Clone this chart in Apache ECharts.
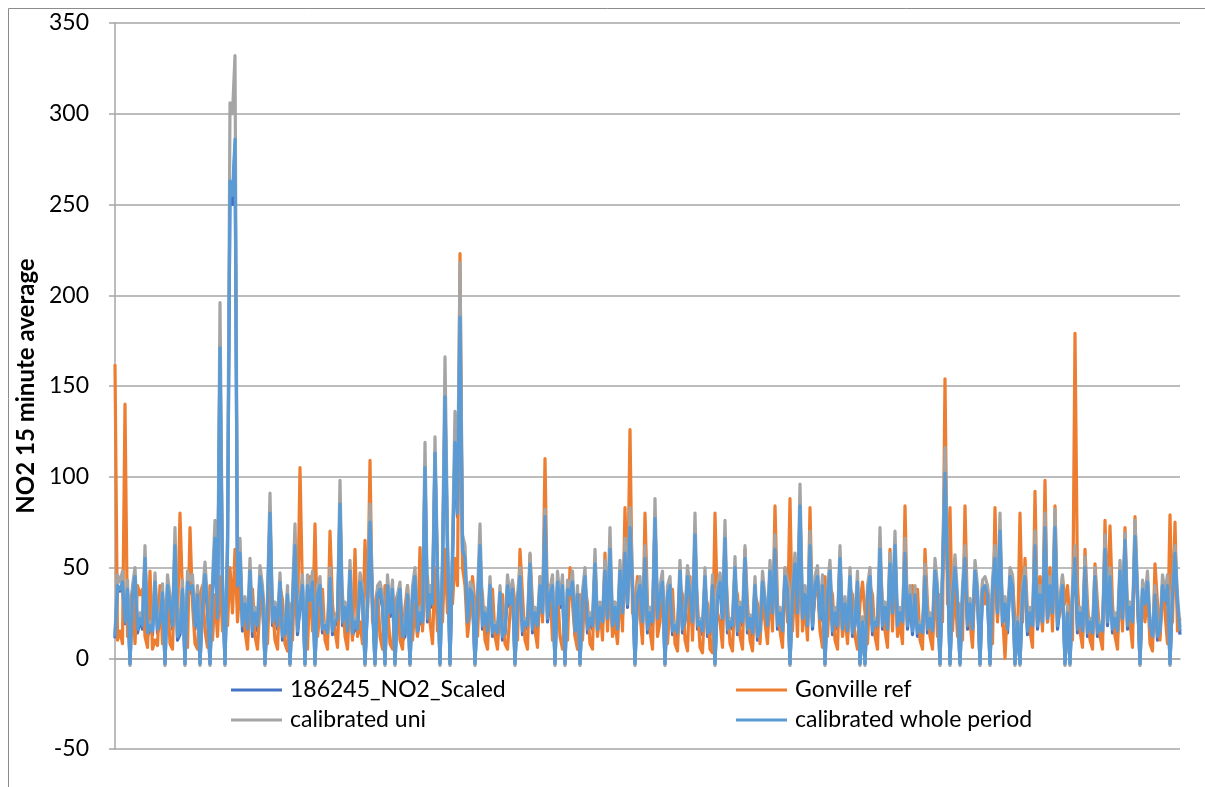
<!DOCTYPE html>
<html>
<head>
<meta charset="utf-8">
<script src="https://cdn.jsdelivr.net/npm/echarts@6/dist/echarts.min.js"></script>
<style>
  html, body { margin: 0; padding: 0; background: #fff; }
  #chart { width: 1205px; height: 787px; }
</style>
</head>
<body>
<div id="chart"></div>
<script>
// 15 minute NO2 readings (roughly one point every 2.5px)
const scaled = [
  11, 38, 37, 40, 19, 36, -3, 33, 44, 14, 21, 16, 54, 12, 17, 13, 41, 14, 19, 34,
  -3, 38, 28, 16, 60, 10, 13, 36, -3, 40, 36, 38, 16, 33, -3, 28, 44, 26, -3, 36,
  64, 20, 168, 38, -3, 58, 258, 250, 282, 38, 55, 15, 24, 12, 45, 12, 22, 15, 42, 33,
  -3, 28, 78, 18, 25, 16, 40, 10, 12, 33, -3, 28, 60, 13, 28, 38, -3, 38, 30, 40,
  -3, 33, 38, 14, 16, 12, 42, 13, 18, 20, 83, 18, 26, 13, 46, 12, 18, 14, 40, 33,
  -3, 28, 73, 28, -3, 33, 36, 28, -3, 38, 23, 36, -3, 28, 36, 10, 12, 33, -3, 33,
  43, 13, 23, 18, 102, 20, 32, 28, 110, 43, -3, 48, 140, 58, -3, 53, 115, 78, 183, 58,
  52, 18, 35, 33, -3, 28, 60, 16, 23, 13, 38, 12, 16, 12, 34, 10, 13, 38, 28, 36,
  -3, 28, 43, 13, 18, 16, 50, 14, 22, 16, 38, 23, 75, 20, 32, 38, -3, 40, 28, 38,
  -3, 36, 33, 40, 13, 33, -3, 30, 43, 14, 20, 16, 50, 14, 26, 18, 46, 20, 58, 16,
  26, 14, 46, 23, 56, 28, 70, 38, -3, 33, 38, 18, 53, 14, 23, 18, 75, 20, 33, 40,
  -3, 33, 38, 13, 16, 12, 46, 14, 20, 43, 33, 18, 66, 16, 18, 13, 43, 12, 13, 38,
  -3, 33, 40, 20, 64, 14, 18, 16, 48, 13, 26, 18, 53, 14, 20, 12, 38, 10, 13, 40,
  28, 16, 46, 23, 58, 16, 23, 13, 43, 36, -3, 33, 50, 23, 82, 20, 33, 16, 60, 16,
  38, 43, 20, 38, -3, 33, 46, 13, 23, 16, 53, 14, 28, 13, 43, 12, 18, 40, -3, 18,
  -3, 33, 43, 13, 18, 16, 58, 16, 26, 14, 48, 23, 58, 16, 22, 18, 54, 16, 32, 13,
  33, 12, 16, 12, 43, 14, 20, 13, 45, 33, -3, 43, 99, 48, -3, 33, 47, 28, -3, 33,
  52, 16, 28, 14, 46, 33, -3, 36, 38, 33, -3, 36, 52, 23, 67, 18, 28, 14, 42, 38,
  -3, 18, -3, 33, 43, 13, 23, 16, 60, 16, 33, 18, 70, 20, 38, 23, 70, 16, 28, 38,
  -3, 23, -3, 33, 52, 14, 22, 13, 47, 12, 17, 12, 42, 12, 15, 13, 57, 18, 42, 14,
  20, 13, 46, 20, 63, 16, 25, 18, 65, 33, -3, 36, 28, 40, 16, 10, 33, 10, 13, 38,
  30, 38, -3, 33, 56, 28, 13
];

const gonville = [
  162, 10, 15, 8, 140, 12, 30, 38, 8, 40, 35, 38, 12, 6, 48, 5, 10, 7, 40, 8,
  30, 35, 8, 5, 50, 20, 80, 35, 10, 6, 72, 30, 8, 5, 35, 40, 15, 6, 40, 10,
  35, 12, 45, 15, 30, 18, 50, 25, 60, 20, 40, 30, 15, 5, 35, 38, 12, 5, 30, 38,
  20, 8, 45, 30, 10, 5, 40, 32, 8, 4, 30, 10, 50, 20, 105, 35, 12, 5, 45, 15,
  74, 12, 25, 38, 10, 5, 70, 30, 15, 6, 45, 35, 12, 5, 35, 10, 60, 12, 20, 8,
  65, 25, 109, 20, 30, 38, 12, 5, 40, 30, 8, 5, 30, 35, 10, 5, 28, 40, 20, 10,
  30, 12, 61, 15, 40, 45, 20, 8, 50, 15, 35, 20, 60, 25, 45, 30, 55, 40, 223, 50,
  40, 12, 25, 45, 30, 12, 45, 35, 10, 5, 35, 38, 12, 5, 30, 35, 8, 5, 25, 42,
  30, 10, 60, 35, 10, 5, 57, 30, 15, 6, 45, 20, 110, 25, 40, 10, 25, 38, 12, 5,
  25, 10, 50, 30, 12, 5, 35, 10, 40, 30, 8, 5, 55, 12, 30, 10, 58, 15, 45, 12,
  20, 8, 40, 15, 83, 30, 126, 25, 30, 45, 25, 8, 80, 30, 15, 5, 60, 12, 20, 40,
  25, 8, 30, 38, 8, 4, 40, 35, 10, 4, 45, 10, 50, 30, 6, 3, 35, 30, 5, 3,
  80, 25, 20, 6, 55, 30, 8, 4, 40, 35, 12, 5, 60, 30, 10, 4, 35, 30, 8, 35,
  20, 8, 40, 15, 84, 30, 15, 6, 50, 20, 88, 15, 45, 12, 70, 15, 30, 10, 83, 20,
  35, 42, 15, 6, 45, 12, 40, 35, 10, 5, 50, 12, 25, 8, 38, 35, 12, 5, 30, 42,
  25, 8, 40, 35, 12, 5, 55, 30, 15, 6, 60, 15, 55, 12, 20, 8, 84, 20, 30, 40,
  25, 38, 10, 5, 60, 30, 12, 5, 45, 12, 35, 20, 154, 30, 83, 15, 40, 12, 30, 10,
  84, 25, 20, 6, 45, 30, 15, 42, 30, 40, 25, 8, 83, 20, 60, 25, 0, 30, 40, 45,
  20, 6, 80, 20, 55, 25, 15, 6, 92, 20, 45, 15, 98, 20, 50, 15, 84, 20, 25, 45,
  30, 40, 20, 10, 179, 40, 15, 6, 60, 30, 10, 5, 52, 30, 12, 5, 76, 25, 73, 30,
  12, 5, 45, 15, 72, 25, 20, 6, 78, 30, 4, 35, 20, 38, 8, 4, 52, 30, 10, 40,
  25, 8, 79, 20, 75, 15, 22
];

const calUni = [
  14, 46, 42, 48, 23, 43, -4, 40, 50, 19, 25, 21, 62, 16, 20, 18, 47, 19, 22, 41,
  -4, 46, 34, 21, 72, 14, 18, 43, -4, 48, 43, 46, 21, 40, -4, 35, 53, 32, -4, 43,
  76, 26, 196, 46, -4, 68, 306, 300, 332, 46, 66, 21, 34, 19, 55, 18, 28, 21, 51, 40,
  -4, 35, 91, 23, 31, 21, 47, 14, 16, 40, -4, 35, 74, 18, 34, 46, -4, 46, 36, 48,
  -4, 40, 45, 19, 20, 16, 50, 18, 22, 26, 98, 23, 31, 18, 54, 16, 22, 19, 47, 40,
  -4, 35, 85, 35, -4, 40, 42, 35, -4, 46, 28, 43, -4, 35, 42, 14, 16, 40, -4, 40,
  50, 18, 28, 23, 119, 26, 40, 35, 122, 51, -4, 57, 166, 68, -4, 63, 136, 91, 218, 68,
  62, 23, 42, 40, -4, 35, 74, 21, 28, 18, 45, 16, 20, 16, 40, 14, 17, 46, 34, 43,
  -4, 35, 50, 18, 22, 21, 58, 19, 28, 21, 45, 29, 82, 26, 38, 46, -4, 48, 33, 46,
  -4, 43, 39, 48, 17, 40, -4, 37, 50, 19, 25, 21, 60, 19, 31, 23, 54, 26, 72, 21,
  31, 19, 54, 29, 66, 35, 83, 46, -4, 40, 45, 23, 62, 19, 28, 23, 88, 26, 40, 48,
  -4, 40, 45, 18, 20, 16, 54, 19, 25, 51, 39, 23, 80, 21, 22, 18, 50, 16, 17, 46,
  -4, 40, 47, 26, 76, 19, 22, 21, 56, 18, 31, 23, 62, 19, 24, 16, 45, 14, 17, 48,
  34, 21, 54, 29, 68, 21, 28, 18, 50, 43, -4, 40, 58, 29, 96, 26, 40, 21, 70, 21,
  45, 51, 25, 46, -4, 40, 54, 18, 28, 21, 62, 19, 34, 18, 50, 16, 22, 48, -4, 23,
  -4, 40, 50, 18, 22, 21, 72, 21, 31, 19, 58, 29, 70, 21, 28, 23, 66, 21, 40, 18,
  40, 16, 20, 16, 52, 19, 25, 18, 55, 40, -4, 51, 116, 57, -4, 40, 57, 35, -4, 40,
  62, 21, 33, 19, 54, 40, -4, 43, 45, 40, -4, 43, 62, 29, 80, 23, 34, 19, 50, 46,
  -4, 23, -4, 40, 50, 18, 28, 21, 70, 21, 40, 23, 80, 26, 45, 29, 82, 21, 34, 46,
  -4, 29, -4, 40, 62, 19, 28, 18, 56, 16, 22, 16, 50, 16, 20, 18, 68, 23, 50, 19,
  25, 18, 54, 26, 69, 21, 31, 23, 76, 40, -4, 43, 34, 48, 20, 14, 40, 14, 17, 46,
  36, 46, -4, 40, 62, 35, 17
];

const calWhole = [
  12, 40, 38, 42, 20, 38, -3, 35, 45, 16, 22, 18, 55, 14, 18, 15, 42, 16, 20, 36,
  -3, 40, 30, 18, 62, 12, 15, 38, -3, 42, 38, 40, 18, 35, -3, 30, 46, 28, -3, 38,
  66, 22, 171, 40, -3, 60, 263, 255, 286, 40, 58, 18, 30, 16, 48, 15, 25, 18, 45, 35,
  -3, 30, 80, 20, 28, 18, 42, 12, 14, 35, -3, 30, 62, 15, 30, 40, -3, 40, 32, 42,
  -3, 35, 40, 16, 18, 14, 44, 15, 20, 22, 85, 20, 28, 15, 48, 14, 20, 16, 42, 35,
  -3, 30, 75, 30, -3, 35, 38, 30, -3, 40, 25, 38, -3, 30, 38, 12, 14, 35, -3, 35,
  45, 15, 25, 20, 105, 22, 35, 30, 113, 45, -3, 50, 144, 60, -3, 55, 119, 80, 188, 60,
  55, 20, 38, 35, -3, 30, 62, 18, 25, 15, 40, 14, 18, 14, 36, 12, 15, 40, 30, 38,
  -3, 30, 45, 15, 20, 18, 52, 16, 25, 18, 40, 25, 78, 22, 35, 40, -3, 42, 30, 40,
  -3, 38, 35, 42, 15, 35, -3, 32, 45, 16, 22, 18, 52, 16, 28, 20, 48, 22, 60, 18,
  28, 16, 48, 25, 58, 30, 72, 40, -3, 35, 40, 20, 55, 16, 25, 20, 77, 22, 35, 42,
  -3, 35, 40, 15, 18, 14, 48, 16, 22, 45, 35, 20, 68, 18, 20, 15, 45, 14, 15, 40,
  -3, 35, 42, 22, 66, 16, 20, 18, 50, 15, 28, 20, 55, 16, 22, 14, 40, 12, 15, 42,
  30, 18, 48, 25, 60, 18, 25, 15, 45, 38, -3, 35, 52, 25, 84, 22, 35, 18, 62, 18,
  40, 45, 22, 40, -3, 35, 48, 15, 25, 18, 55, 16, 30, 15, 45, 14, 20, 42, -3, 20,
  -3, 35, 45, 15, 20, 18, 60, 18, 28, 16, 52, 25, 62, 18, 25, 20, 58, 18, 35, 15,
  35, 14, 18, 14, 45, 16, 22, 15, 48, 35, -3, 45, 102, 50, -3, 35, 50, 30, -3, 35,
  55, 18, 30, 16, 48, 35, -3, 38, 40, 35, -3, 38, 55, 25, 70, 20, 30, 16, 45, 40,
  -3, 20, -3, 35, 45, 15, 25, 18, 62, 18, 35, 20, 72, 22, 40, 25, 72, 18, 30, 40,
  -3, 25, -3, 35, 55, 16, 25, 15, 50, 14, 20, 14, 45, 14, 18, 15, 60, 20, 45, 16,
  22, 15, 48, 22, 65, 18, 28, 20, 67, 35, -3, 38, 30, 42, 18, 12, 35, 12, 15, 40,
  32, 40, -3, 35, 58, 30, 15
];

const seriesNames = ['186245_NO2_Scaled', 'Gonville ref', 'calibrated uni', 'calibrated whole period'];
const seriesColors = ['#4472C4', '#ED7D31', '#A5A5A5', '#5B9BD5'];

const FONT = 'Lato, "Open Sans", sans-serif';

let myChart = echarts.init(document.getElementById('chart'));

function lineSeries(idx, data) {
  return {
    name: seriesNames[idx],
    type: 'line',
    data: data,
    symbol: 'none',
    color: seriesColors[idx],
    lineStyle: { width: 3.2, color: seriesColors[idx], join: 'round' },
    animation: false
  };
}

let legendCommon = {
  orient: 'vertical',
  top: 673,
  icon: 'rect',
  itemWidth: 51,
  itemHeight: 3,
  itemGap: 6,
  textStyle: { fontFamily: FONT, fontSize: 23, lineHeight: 24, color: '#000', padding: [0, 0, 0, 3] }
};

let option = {
  backgroundColor: '#fff',
  animation: false,
  grid: { left: 115, right: 25, top: 23, bottom: 38 },
  graphic: [
    {
      type: 'rect',
      shape: { x: 8.5, y: 8.5, width: 1400, height: 1000 },
      style: { fill: 'none', stroke: '#8c8c8c', lineWidth: 1 },
      silent: true
    }
  ],
  legend: [
    Object.assign({ left: 226, data: [seriesNames[0], seriesNames[2]] }, legendCommon),
    Object.assign({ left: 731, data: [seriesNames[1], seriesNames[3]] }, legendCommon)
  ],
  xAxis: {
    type: 'category',
    boundaryGap: false,
    axisLabel: { show: false },
    axisTick: { show: false },
    axisLine: { show: true, lineStyle: { color: '#a6a6a6', width: 1.5 } },
    splitLine: { show: false }
  },
  yAxis: {
    type: 'value',
    min: -50,
    max: 350,
    interval: 50,
    name: 'NO2 15 minute average',
    nameLocation: 'middle',
    nameGap: 77,
    nameTextStyle: { fontFamily: FONT, fontSize: 24, fontWeight: 'bold', color: '#000' },
    axisLine: { show: true, lineStyle: { color: '#a6a6a6', width: 1.5 } },
    axisTick: { show: true, length: 6, lineStyle: { color: '#a6a6a6', width: 1.5 } },
    axisLabel: { fontFamily: FONT, fontSize: 23, color: '#000', margin: 26 },
    splitLine: { show: true, lineStyle: { color: '#a6a6a6', width: 1.5 } }
  },
  series: [
    lineSeries(0, scaled),
    lineSeries(1, gonville),
    lineSeries(2, calUni),
    lineSeries(3, calWhole)
  ]
};

myChart.setOption(option);
</script>
</body>
</html>
